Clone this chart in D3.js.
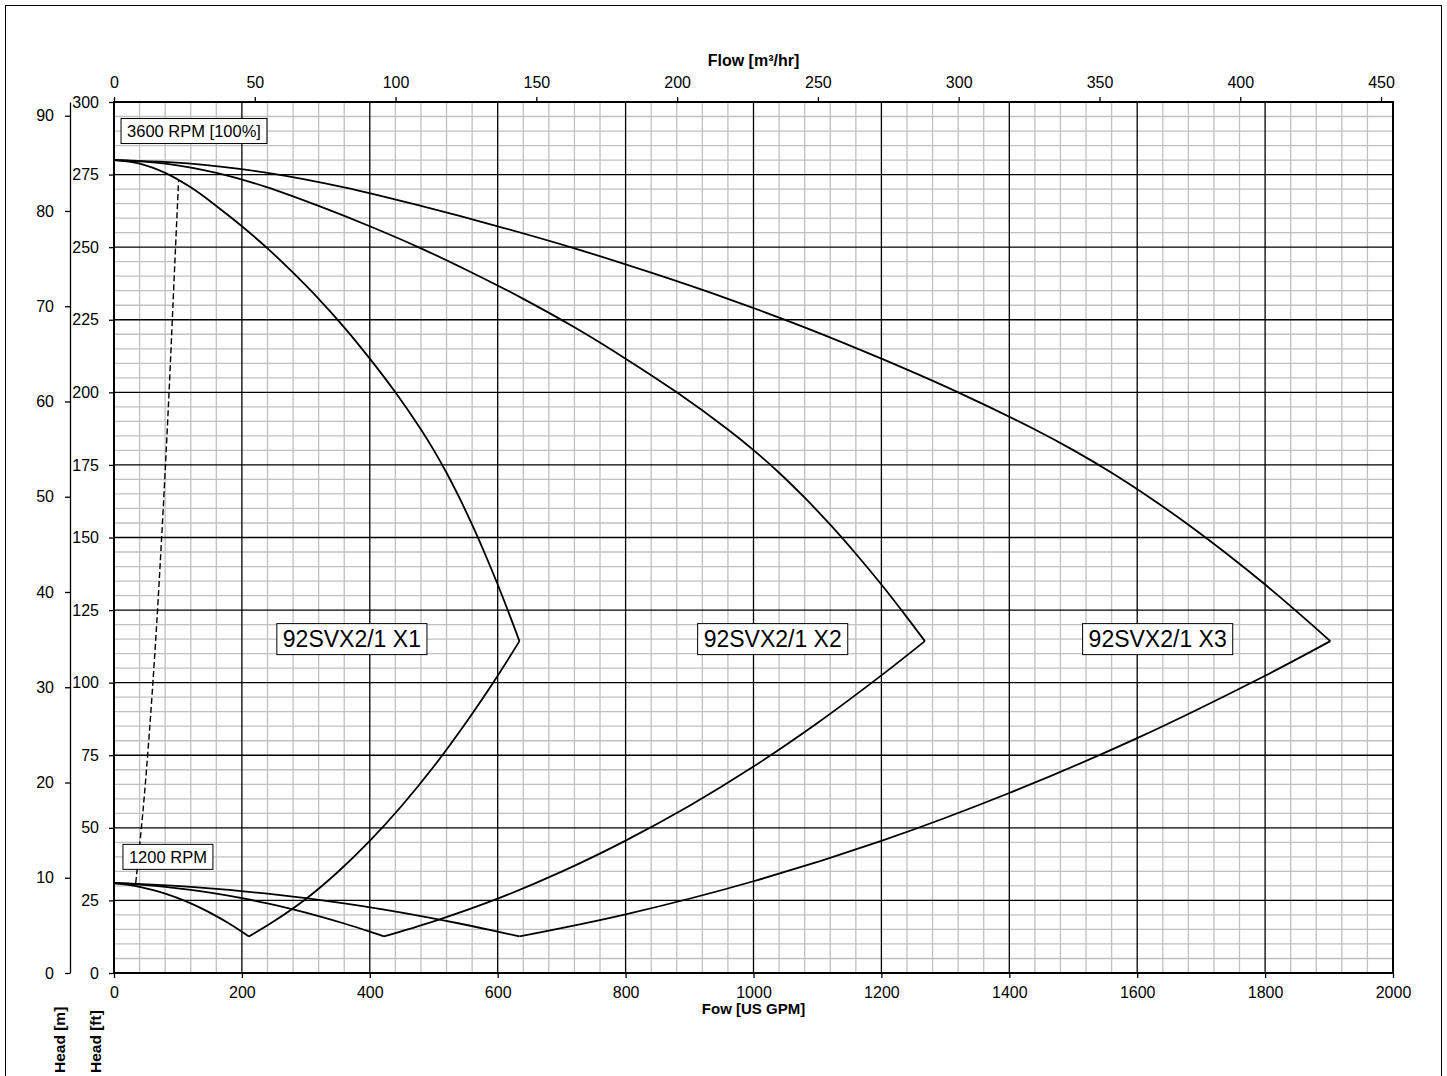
<!DOCTYPE html>
<html><head><meta charset="utf-8">
<script src="https://cdn.jsdelivr.net/npm/d3@7"></script>
<style>
body{margin:0;background:#fff}
svg{display:block}
text{font-family:Arial,"Liberation Sans",sans-serif;fill:#000}
</style>
</head><body>
<svg id="chart" width="1447" height="1076"></svg>
<script>
// ---------- tick labels ----------
const gpmTicks = [0,200,400,600,800,1000,1200,1400,1600,1800,2000];
const m3hTicks = [0,50,100,150,200,250,300,350,400,450];
const ftTicks  = [0,25,50,75,100,125,150,175,200,225,250,275,300];
const mTicks   = [0,10,20,30,40,50,60,70,80,90];

// ---------- series: [flow US GPM, head ft] ----------
const x1_3600 = [[0,280],[40,278.8],[80,275.6],[120,270.6],[160,264.2],[200,257.2],[240,249.6],[280,241.2],[320,232.2],[360,222.4],[400,211.6],[440,200],[480,187.2],[500,180.1],[520,172.3],[540,163.7],[560,154.4],[580,144.4],[600,133.8],[620,122.5],[634,114.3]];
const x2_3600 = [[0,280],[80,278.8],[160,275.6],[240,270.6],[320,264.2],[400,257.2],[480,249.6],[560,241.2],[640,232.2],[720,222.4],[800,211.6],[880,200],[960,187.2],[1000,180.1],[1040,172.3],[1080,163.7],[1120,154.4],[1160,144.4],[1200,133.8],[1240,122.5],[1268,114.3]];
const x3_3600 = [[0,280],[120,278.8],[240,275.6],[360,270.6],[480,264.2],[600,257.2],[720,249.6],[840,241.2],[960,232.2],[1080,222.4],[1200,211.6],[1320,200],[1440,187.2],[1500,180.1],[1560,172.3],[1620,163.7],[1680,154.4],[1740,144.4],[1800,133.8],[1860,122.5],[1902,114.3]];

const x1_1200 = [[0,31],[20,30.45],[40,29.66],[60,28.61],[80,27.31],[100,25.76],[120,23.96],[140,21.91],[160,19.6],[180,17.05],[200,14.24],[211,12.6]];
const x2_1200 = [[0,31],[40,30.45],[80,29.66],[120,28.61],[160,27.31],[200,25.76],[240,23.96],[280,21.91],[320,19.6],[360,17.05],[400,14.24],[422,12.6]];
const x3_1200 = [[0,31],[60,30.45],[120,29.66],[180,28.61],[240,27.31],[300,25.76],[360,23.96],[420,21.91],[480,19.6],[540,17.05],[600,14.24],[634,12.6]];

const x1_limit = [[211,12.6],[250,17.8],[300,25.5],[350,34.8],[400,45.5],[450,57.6],[500,71.1],[550,86.1],[600,102.4],[634,114.3]];
const x2_limit = [[422,12.6],[500,17.8],[600,25.6],[700,34.9],[800,45.6],[900,57.6],[1000,71.1],[1100,86.1],[1200,102.5],[1268,114.3]];
const x3_limit = [[634,12.6],[800,20.2],[1000,31.6],[1200,45.5],[1400,62],[1600,80.9],[1800,102.4],[1902,114.3]];

const minSpeedLine = [[34,31],[45,55],[55,82],[65,114],[75,152],[85,195],[95,244],[101,273]];

const curveLabels = [
  {text:"92SVX2/1 X1", q:372, h:115},
  {text:"92SVX2/1 X2", q:1030, h:115},
  {text:"92SVX2/1 X3", q:1632, h:115}
];
const speedLabels = [
  {text:"3600 RPM [100%]", q:11, h:290},
  {text:"1200 RPM", q:14, h:40}
];

// ---------- layout ----------
const svg = d3.select("#chart");
const L = 114, R = 1393, T = 102, B = 973;
const GPM_PER_M3H = 4.40287, FT_PER_M = 3.28084;

const x  = d3.scaleLinear().domain([0,2000]).range([L,R]);
const y  = d3.scaleLinear().domain([0,300]).range([B,T]);
const xm = d3.scaleLinear().domain([0,2000/GPM_PER_M3H]).range([L,R]);
const ym = d3.scaleLinear().domain([0,300/FT_PER_M]).range([B,T]);

svg.append("rect").attr("x",0).attr("y",0).attr("width",1447).attr("height",1076).attr("fill","#fff");
svg.append("rect").attr("x",5.5).attr("y",5.5).attr("width",1436).attr("height",1100)
  .attr("fill","none").attr("stroke","#000").attr("stroke-width",1);

// grid
const g = svg.append("g");
const minorV = d3.range(0,2001,40).filter(v=>v%200!==0);
const minorH = d3.range(0,301,5).filter(v=>v%25!==0);
g.selectAll(".mv").data(minorV).join("line")
  .attr("x1",d=>x(d)).attr("x2",d=>x(d)).attr("y1",T).attr("y2",B)
  .attr("stroke","#c0c0c0").attr("stroke-width",1.3);
g.selectAll(".mh").data(minorH).join("line")
  .attr("y1",d=>y(d)).attr("y2",d=>y(d)).attr("x1",L).attr("x2",R)
  .attr("stroke","#c0c0c0").attr("stroke-width",1.3);
g.selectAll(".Mv").data(gpmTicks).join("line")
  .attr("x1",d=>x(d)).attr("x2",d=>x(d)).attr("y1",T).attr("y2",B)
  .attr("stroke","#000").attr("stroke-width",1.3);
g.selectAll(".Mh").data(ftTicks).join("line")
  .attr("y1",d=>y(d)).attr("y2",d=>y(d)).attr("x1",L).attr("x2",R)
  .attr("stroke","#000").attr("stroke-width",1.3);
svg.append("rect").attr("x",L).attr("y",T).attr("width",R-L).attr("height",B-T)
  .attr("fill","none").attr("stroke","#000").attr("stroke-width",2);

// curves
const line = d3.line().x(d=>x(d[0])).y(d=>y(d[1])).curve(d3.curveCatmullRom.alpha(0.5));
const cg = svg.append("g").attr("fill","none").attr("stroke","#000").attr("stroke-width",1.8)
  .attr("stroke-linejoin","round");
[x1_3600,x2_3600,x3_3600,x1_1200,x2_1200,x3_1200,x1_limit,x2_limit,x3_limit].forEach(s=>{
  cg.append("path").attr("d",line(s));
});
cg.append("path").attr("d",line(minSpeedLine)).attr("stroke-dasharray","6,3").attr("stroke-width",1.4);

// boxed labels
function boxLabel(d, size, anchor, padX, h){
  const grp = svg.append("g");
  const rect = grp.append("rect");
  const t = grp.append("text").attr("font-size",size).attr("y",y(d.h))
    .attr("text-anchor",anchor).attr("dominant-baseline","central").text(d.text);
  if(anchor==="start"){ t.attr("x",x(d.q)+padX); } else { t.attr("x",x(d.q)); }
  const bb = t.node().getBBox();
  rect.attr("x",bb.x-padX).attr("y",y(d.h)-h/2).attr("width",bb.width+2*padX).attr("height",h)
    .attr("fill","#fff").attr("stroke","#000").attr("stroke-width",1);
}
curveLabels.forEach(d=>boxLabel(d,23,"middle",6,31));
speedLabels.forEach(d=>boxLabel(d,16.5,"start",6,25));

// axes
const fs = 16;
function styleAxis(sel){
  sel.selectAll("text").attr("font-size",fs).attr("font-family","Arial, 'Liberation Sans', sans-serif");
  sel.selectAll("line").attr("stroke","#000").attr("stroke-width",1.3);
  sel.select(".domain").attr("stroke","#000").attr("stroke-width",1.3);
}
svg.append("g").attr("transform",`translate(0,${B})`)
  .call(d3.axisBottom(x).tickValues(gpmTicks).tickSize(5).tickSizeOuter(0).tickPadding(9).tickFormat(d3.format("d")))
  .call(styleAxis).call(s=>s.select(".domain").remove());
svg.append("g").attr("transform",`translate(0,${T})`)
  .call(d3.axisTop(xm).tickValues(m3hTicks).tickSize(5).tickSizeOuter(0).tickPadding(9).tickFormat(d3.format("d")))
  .call(styleAxis).call(s=>s.select(".domain").remove());
svg.append("g").attr("transform",`translate(${L},0)`)
  .call(d3.axisLeft(y).tickValues(ftTicks).tickSize(5).tickSizeOuter(0).tickPadding(10).tickFormat(d3.format("d")))
  .call(styleAxis).call(s=>s.select(".domain").remove());
svg.append("g").attr("transform",`translate(70,0)`)
  .call(d3.axisLeft(ym).tickValues(mTicks).tickSize(5).tickSizeOuter(0).tickPadding(11).tickFormat(d3.format("d")))
  .call(styleAxis);

// axis titles
svg.append("text").attr("x",(L+R)/2).attr("y",66).attr("text-anchor","middle")
  .attr("font-size",16).attr("font-weight","bold").text("Flow [m³/hr]");
svg.append("text").attr("x",(L+R)/2).attr("y",1014).attr("text-anchor","middle")
  .attr("font-size",15).attr("font-weight","bold").text("Fow [US GPM]");
svg.append("text").attr("transform","translate(65,1073) rotate(-90)")
  .attr("font-size",15.5).attr("font-weight","bold").text("Head [m]");
svg.append("text").attr("transform","translate(101,1073) rotate(-90)")
  .attr("font-size",15.5).attr("font-weight","bold").text("Head [ft]");
</script>
</body></html>
